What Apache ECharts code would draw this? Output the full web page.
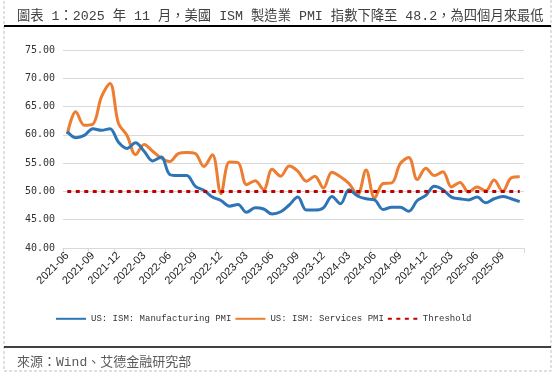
<!DOCTYPE html>
<html>
<head>
<meta charset="utf-8">
<script src="https://cdn.jsdelivr.net/npm/echarts@6/dist/echarts.min.js"></script>
<style>
html,body{margin:0;padding:0;background:#fff;}
#c{width:555px;height:376px;}
</style>
</head>
<body>
<div id="c"></div>
<script>
const titleText = '圖表 1：2025 年 11 月，美國 ISM 製造業 PMI 指數下降至 48.2，為四個月來最低';
const sourceText = '來源：Wind、艾德金融研究部';
const seriesNames = ['US: ISM: Manufacturing PMI', 'US: ISM: Services PMI', 'Threshold'];

const months = [
  '2021-06','2021-07','2021-08','2021-09','2021-10','2021-11','2021-12',
  '2022-01','2022-02','2022-03','2022-04','2022-05','2022-06','2022-07','2022-08','2022-09','2022-10','2022-11','2022-12',
  '2023-01','2023-02','2023-03','2023-04','2023-05','2023-06','2023-07','2023-08','2023-09','2023-10','2023-11','2023-12',
  '2024-01','2024-02','2024-03','2024-04','2024-05','2024-06','2024-07','2024-08','2024-09','2024-10','2024-11','2024-12',
  '2025-01','2025-02','2025-03','2025-04','2025-05','2025-06','2025-07','2025-08','2025-09','2025-10','2025-11'
];

const manufacturing = [
  60.6, 59.5, 59.9, 61.1, 60.8, 61.1, 58.7,
  57.6, 58.6, 57.1, 55.4, 56.1, 53.0, 52.8, 52.8, 50.9, 50.2, 49.0, 48.4,
  47.4, 47.7, 46.3, 47.1, 46.9, 46.0, 46.4, 47.6, 49.0, 46.7, 46.7, 47.1,
  49.1, 47.8, 50.3, 49.2, 48.7, 48.5, 46.8, 47.2, 47.2, 46.5, 48.4, 49.3,
  50.9, 50.3, 49.0, 48.7, 48.5, 49.0, 48.0, 48.7, 49.1, 48.7, 48.2
];

const services = [
  60.1, 64.1, 61.7, 61.9, 66.7, 69.1, 62.0,
  59.9, 56.5, 58.3, 57.1, 55.9, 55.3, 56.7, 56.9, 56.7, 54.4, 56.5, 49.6,
  55.2, 55.1, 51.2, 51.9, 50.3, 53.9, 52.7, 54.5, 53.6, 51.8, 52.7, 50.6,
  53.4, 52.6, 51.4, 49.4, 53.8, 48.8, 51.4, 51.5, 54.9, 56.0, 52.1, 54.1,
  52.8, 53.5, 50.8, 51.6, 49.9, 50.8, 50.1, 52.0, 50.0, 52.4, 52.6
];

const threshold = [
  50, 50, 50, 50, 50, 50, 50,
  50, 50, 50, 50, 50, 50, 50, 50, 50, 50, 50, 50,
  50, 50, 50, 50, 50, 50, 50, 50, 50, 50, 50, 50,
  50, 50, 50, 50, 50, 50, 50, 50, 50, 50, 50, 50,
  50, 50, 50, 50, 50, 50, 50, 50, 50, 50, 50
];

const yMin = 40, yMax = 75, yStep = 5;

const monoCJK = '"Liberation Mono", "Noto Sans CJK TC", monospace';

const chart = echarts.init(document.getElementById('c'), null, {renderer: 'canvas'});
chart.setOption({
  animation: false,
  backgroundColor: '#ffffff',
  title: [
    {text: titleText, left: 12, top: 5,
     textStyle: {fontFamily: monoCJK, fontSize: 13.3, fontWeight: 'normal', color: '#404040'}},
    {text: sourceText, left: 12, top: 351,
     textStyle: {fontFamily: monoCJK, fontSize: 13, fontWeight: 'normal', color: '#595959'}}
  ],
  graphic: [
    {type: 'rect', shape: {x: 4, y: -3, width: 547, height: 374},
     style: {fill: 'none', stroke: '#c0c0c0', lineWidth: 1, lineDash: [3, 2]}, silent: true},
    {type: 'line', shape: {x1: 4, y1: 26, x2: 551, y2: 26},
     style: {stroke: '#000', lineWidth: 2}, silent: true},
    {type: 'line', shape: {x1: 4, y1: 347, x2: 551, y2: 347},
     style: {stroke: '#000', lineWidth: 1.5}, silent: true}
  ],
  grid: {left: 63, right: 31, top: 50, bottom: 128, containLabel: false},
  legend: {
    left: 55, top: 314, padding: 0,
    itemWidth: 30, itemHeight: 12, itemGap: 3,
    itemStyle: {opacity: 0},
    textStyle: {fontFamily: monoCJK, fontSize: 9, color: '#333'},
    data: seriesNames
  },
  xAxis: {
    type: 'category',
    data: months,
    boundaryGap: true,
    axisLine: {show: true, lineStyle: {color: '#d9d9d9', width: 1}},
    axisTick: {show: true, interval: 2, length: 5, lineStyle: {color: '#d9d9d9'}},
    axisLabel: {interval: 2, rotate: 45, fontFamily: '"Liberation Sans", Arial, sans-serif',
      fontSize: 11, color: '#222', margin: 6}
  },
  yAxis: {
    type: 'value',
    min: yMin, max: yMax, interval: yStep,
    axisLine: {show: false},
    axisTick: {show: false},
    splitLine: {lineStyle: {color: '#d9d9d9', width: 1}},
    axisLabel: {formatter: v => v.toFixed(2), fontFamily: '"DejaVu Sans Mono", monospace',
      fontSize: 10, color: '#333', margin: 8}
  },
  series: [
    {name: seriesNames[0], type: 'line', data: manufacturing, smooth: 0.35, symbol: 'none',
     lineStyle: {color: '#2E75B6', width: 3}, itemStyle: {color: '#2E75B6'}, z: 3},
    {name: seriesNames[1], type: 'line', data: services, smooth: 0.35, symbol: 'none',
     lineStyle: {color: '#ED7D31', width: 3}, itemStyle: {color: '#ED7D31'}, z: 2},
    {name: seriesNames[2], type: 'line', data: threshold, symbol: 'none',
     lineStyle: {color: '#C00000', width: 3, type: [4, 4.5]}, itemStyle: {color: '#C00000'}, z: 4}
  ]
});
</script>
</body>
</html>
